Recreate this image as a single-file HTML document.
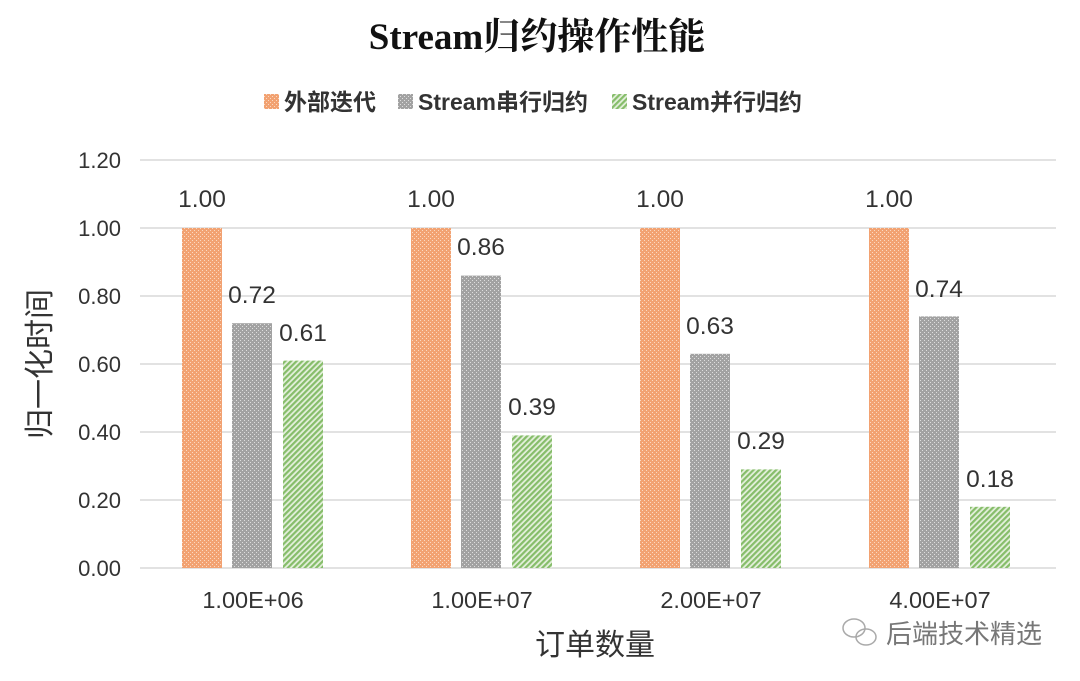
<!DOCTYPE html>
<html><head><meta charset="utf-8"><style>body{margin:0;background:#fff}svg{display:block}</style></head><body>
<svg width="1080" height="681" xmlns="http://www.w3.org/2000/svg" font-family="Liberation Sans, Noto Sans CJK SC, sans-serif">
<defs>
<pattern id="po" width="4" height="4" patternUnits="userSpaceOnUse"><rect width="4" height="4" fill="#f2a272"/><rect x="0" y="0" width="1" height="1" fill="#fbd9c2"/><rect x="2" y="2" width="1" height="1" fill="#fbd9c2"/></pattern>
<pattern id="pg" width="4" height="4" patternUnits="userSpaceOnUse"><rect width="4" height="4" fill="#a2a2a2"/><rect x="0" y="0" width="1" height="1" fill="#dedede"/><rect x="2" y="2" width="1" height="1" fill="#dedede"/></pattern>
<pattern id="pv" width="4" height="4" patternUnits="userSpaceOnUse" patternTransform="rotate(45)"><rect width="4" height="4" fill="#e4f0dc"/><rect width="2.2" height="4" fill="#86bd6a"/></pattern>
</defs>
<rect width="1080" height="681" fill="#fff"/>
<text x="537" y="49" text-anchor="middle" font-size="37" font-weight="bold" font-family="Liberation Serif, Noto Serif CJK SC, serif" fill="#111">Stream归约操作性能</text>
<g font-size="23" font-weight="bold" fill="#333">
<rect x="264" y="94" width="15" height="15" fill="url(#po)"/><text x="284" y="110">外部迭代</text>
<rect x="398" y="94" width="15" height="15" fill="url(#pg)"/><text x="418" y="110">Stream串行归约</text>
<rect x="612" y="94" width="15" height="15" fill="url(#pv)"/><text x="632" y="110">Stream并行归约</text>
</g>
<g stroke="#d9d9d9" stroke-width="1.5">
<line x1="140" x2="1056" y1="160" y2="160"/><line x1="140" x2="1056" y1="228" y2="228"/><line x1="140" x2="1056" y1="296" y2="296"/><line x1="140" x2="1056" y1="364" y2="364"/><line x1="140" x2="1056" y1="432" y2="432"/><line x1="140" x2="1056" y1="500" y2="500"/><line x1="140" x2="1056" y1="568" y2="568"/>
</g>
<g font-size="22" fill="#333" text-anchor="end">
<text x="121" y="168">1.20</text><text x="121" y="236">1.00</text><text x="121" y="304">0.80</text><text x="121" y="372">0.60</text><text x="121" y="440">0.40</text><text x="121" y="508">0.20</text><text x="121" y="576">0.00</text>
</g>
<text transform="translate(50,364) rotate(-90)" text-anchor="middle" font-size="30" fill="#333">归一化时间</text>
<g>
<rect x="182" y="228" width="40" height="340" fill="url(#po)"/>
<rect x="232" y="323.2" width="40" height="244.8" fill="url(#pg)"/>
<rect x="283" y="360.6" width="40" height="207.4" fill="url(#pv)"/>
<rect x="411" y="228" width="40" height="340" fill="url(#po)"/>
<rect x="461" y="275.6" width="40" height="292.4" fill="url(#pg)"/>
<rect x="512" y="435.4" width="40" height="132.6" fill="url(#pv)"/>
<rect x="640" y="228" width="40" height="340" fill="url(#po)"/>
<rect x="690" y="353.8" width="40" height="214.2" fill="url(#pg)"/>
<rect x="741" y="469.4" width="40" height="98.6" fill="url(#pv)"/>
<rect x="869" y="228" width="40" height="340" fill="url(#po)"/>
<rect x="919" y="316.4" width="40" height="251.6" fill="url(#pg)"/>
<rect x="970" y="506.8" width="40" height="61.2" fill="url(#pv)"/>
</g>
<g font-size="24.5" fill="#333" text-anchor="middle">
<text x="202" y="207">1.00</text><text x="252" y="303">0.72</text><text x="303" y="341">0.61</text>
<text x="431" y="207">1.00</text><text x="481" y="255">0.86</text><text x="532" y="415">0.39</text>
<text x="660" y="207">1.00</text><text x="710" y="334">0.63</text><text x="761" y="449">0.29</text>
<text x="889" y="207">1.00</text><text x="939" y="297">0.74</text><text x="990" y="487">0.18</text>
</g>
<g font-size="23.5" fill="#333" text-anchor="middle">
<text x="253" y="608">1.00E+06</text><text x="482" y="608">1.00E+07</text><text x="711" y="608">2.00E+07</text><text x="940" y="608">4.00E+07</text>
</g>
<text x="595" y="655" text-anchor="middle" font-size="30" fill="#333">订单数量</text>
<g fill="none" stroke="#aaa" stroke-width="1.5"><ellipse cx="854" cy="628" rx="11" ry="9"/><ellipse cx="866" cy="637" rx="10" ry="8"/></g>
<text x="886" y="643" font-size="26" fill="#777">后端技术精选</text>
</svg>
</body></html>
